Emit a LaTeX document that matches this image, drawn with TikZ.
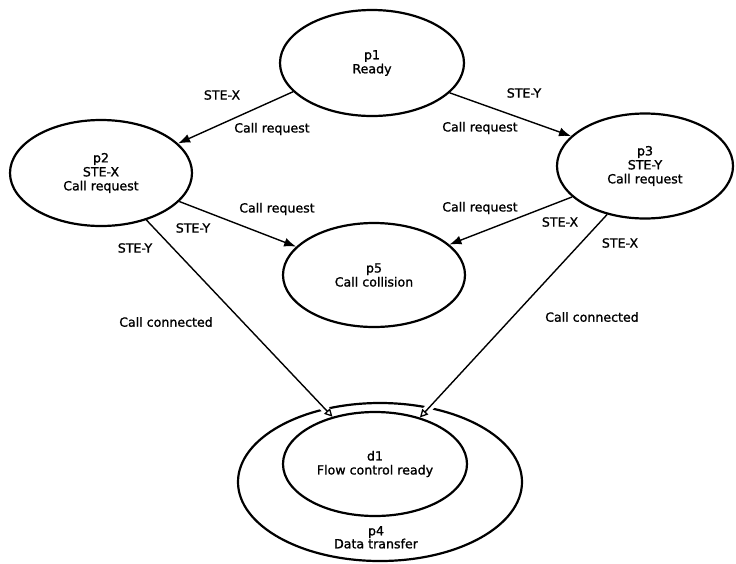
\documentclass[tikz,border=0pt]{standalone}
\usepackage{fontspec}
\setmainfont{DejaVu Sans}
\newfontfamily\lblfont{DejaVu Sans}[FakeBold=1.2]
\usetikzlibrary{shapes.geometric,arrows.meta}
\pgfdeclarelayer{background}
\pgfsetlayers{background,main}
\tikzset{
  statebox/.style={ellipse, draw=black, line width=2.2pt, inner sep=0pt, align=center,
    font=\lblfont\fontsize{12.6}{14}\selectfont},
  lbl/.style={font=\lblfont\fontsize{12.6}{14}\selectfont, inner sep=0pt},
  conn/.style={line width=1.4pt, -{Latex[length=12pt,width=9pt]}},
  connopen/.style={line width=1.4pt, -{Triangle[open,length=8pt,width=8pt,line width=1.3pt]}},
  halo/.style={draw=white, line width=8pt, shorten <=30pt}
}
\begin{document}
\begin{tikzpicture}[x=1pt,y=-1pt]
\useasboundingbox (0,0) rectangle (736,563);
\node[statebox, minimum width=184pt, minimum height=106pt] (p1) at (372,63) {p1\\Ready};
\node[statebox, minimum width=182pt, minimum height=106pt] (p2) at (101,173) {p2\\STE-X\\Call request};
\node[statebox, minimum width=176pt, minimum height=105pt] (p3) at (645,166) {p3\\STE-Y\\Call request};
\node[statebox, minimum width=182pt, minimum height=104pt] (p5) at (374,275) {p5\\Call collision};
\node[statebox, minimum width=184pt, minimum height=104pt] (d1) at (375,464) {d1\\Flow control ready};
\begin{pgfonlayer}{background}
\fill[white] (0,0) rectangle (736,563);
\node[statebox, minimum width=284pt, minimum height=158pt] (p4) at (380,482) {};
\draw[halo] (p2.314) -- (d1.132);
\draw[halo] (p3.232) -- (d1.46);
\end{pgfonlayer}
\node[lbl] (p4lbl) at (376,539) {\begin{tabular}{@{}c@{}}p4\\[-1pt]Data transfer\end{tabular}};
% connectors
\draw[conn] (p1.200.8) -- (p2.21.9);
\draw[conn] (p1.339) -- (p3.158.9);
\draw[conn] (p2.340) -- (p5.160.5);
\draw[conn] (p3.203) -- (p5.22.3);
\draw[connopen] (p2.314) -- (d1.132);
\draw[connopen] (p3.232) -- (d1.46);
% labels
\node[lbl] (t1) at (222,95) {STE-X};
\node[lbl] (t2) at (272,129) {Call request};
\node[lbl] (t3) at (524,93) {STE-Y};
\node[lbl] (t4) at (480,128) {Call request};
\node[lbl] (t5) at (277,209) {Call request};
\node[lbl] (t6) at (193,228) {STE-Y};
\node[lbl] (t7) at (480,208) {Call request};
\node[lbl] (t8) at (560,222) {STE-X};
\node[lbl] (t9) at (135,248) {STE-Y};
\node[lbl] (t10) at (166,322) {Call connected};
\node[lbl] (t11) at (620,243) {STE-X};
\node[lbl] (t12) at (592,317) {Call connected};
\end{tikzpicture}
\end{document}
